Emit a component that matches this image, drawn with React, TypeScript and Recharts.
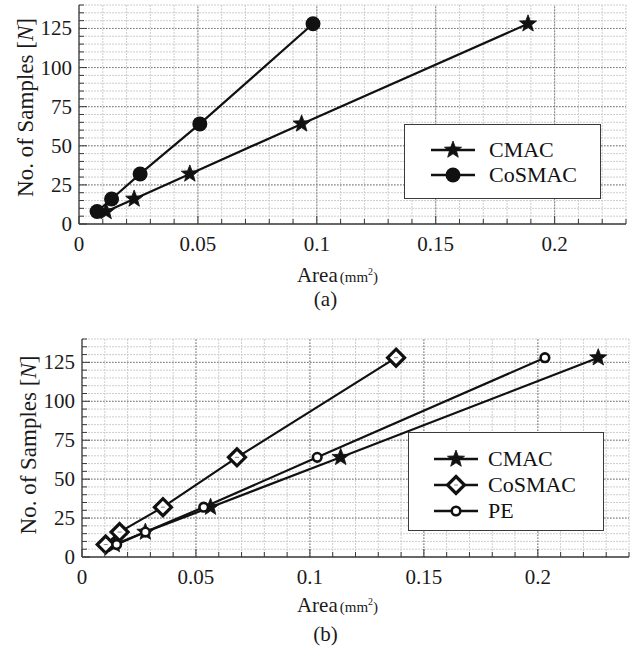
import React from 'react';
import { LineChart, Line, XAxis, YAxis, CartesianGrid, ReferenceLine, Legend, Label } from 'recharts';

// ---------- data ----------
const samples = [8, 16, 32, 64, 128];

// panel (a)
const areaCMAC_a = [0.0114, 0.0232, 0.0466, 0.0936, 0.1888];
const areaCoSMAC_a = [0.0076, 0.0137, 0.0257, 0.0508, 0.0984];

// panel (b)
const areaCMAC_b = [0.0142, 0.0278, 0.0564, 0.1135, 0.2265];
const areaCoSMAC_b = [0.0104, 0.0165, 0.0355, 0.068, 0.1378];
const areaPE_b = [0.0152, 0.0278, 0.0534, 0.1032, 0.2031];

const seriesNamesA = ['CMAC', 'CoSMAC'];
const seriesNamesB = ['CMAC', 'CoSMAC', 'PE'];

// ticks
const xTicksA = [0, 0.01, 0.02, 0.03, 0.04, 0.05, 0.06, 0.07, 0.08, 0.09, 0.1, 0.11, 0.12, 0.13, 0.14, 0.15, 0.16, 0.17, 0.18, 0.19, 0.2, 0.21, 0.22, 0.23];
const xTicksB = [0, 0.01, 0.02, 0.03, 0.04, 0.05, 0.06, 0.07, 0.08, 0.09, 0.1, 0.11, 0.12, 0.13, 0.14, 0.15, 0.16, 0.17, 0.18, 0.19, 0.2, 0.21, 0.22, 0.23, 0.24];
const yTicks = [0, 5, 10, 15, 20, 25, 30, 35, 40, 45, 50, 55, 60, 65, 70, 75, 80, 85, 90, 95, 100, 105, 110, 115, 120, 125, 130, 135, 140];
const xMajorA = [0.05, 0.1, 0.15, 0.2];
const xMajorB = [0.05, 0.1, 0.15, 0.2];
const yMajor = [25, 50, 75, 100, 125];
const yLabelValues = [0, 25, 50, 75, 100, 125];

const toRows = (xs: number[], ys: number[]) => xs.map((x, i) => ({ x, y: ys[i] }));

const FONT = 'Liberation Serif, Tinos, DejaVu Serif, serif';
const INK = '#111';
const AXIS = '#3a3a3a';

const isMajorX = (v: number) => Math.abs(v * 20 - Math.round(v * 20)) < 1e-6;
const fmtX = (v: number) => String(Math.round(v * 100) / 100);

// ---------- markers ----------
function starPath(cx: number, cy: number, R: number, r: number) {
  let d = '';
  for (let i = 0; i < 10; i++) {
    const rad = i % 2 === 0 ? R : r;
    const a = -Math.PI / 2 + (i * Math.PI) / 5;
    d += (i === 0 ? 'M' : 'L') + (cx + rad * Math.cos(a)).toFixed(2) + ',' + (cy + rad * Math.sin(a)).toFixed(2);
  }
  return d + 'Z';
}

function Marker({ kind, cx, cy }: { kind: string; cx: number; cy: number }) {
  if (kind === 'star') return <path d={starPath(cx, cy, 9, 3.8)} fill={INK} stroke={INK} strokeWidth={0.8} />;
  if (kind === 'disc') return <circle cx={cx} cy={cy} r={7.5} fill={INK} />;
  if (kind === 'diamond')
    return (
      <g>
        <polygon
          points={`${cx},${cy - 8.5} ${cx + 8.5},${cy} ${cx},${cy + 8.5} ${cx - 8.5},${cy}`}
          fill="#fff"
          stroke={INK}
          strokeWidth={3.2}
        />
        <line x1={cx - 2} y1={cy} x2={cx + 2} y2={cy} stroke="#888" strokeWidth={1} />
      </g>
    );
  return <circle cx={cx} cy={cy} r={4.3} fill="#fff" stroke={INK} strokeWidth={2.6} />;
}

const makeDot = (kind: string) => (p: any) => {
  const { cx, cy, index } = p;
  if (cx == null || cy == null) return <g key={`${kind}-e-${index}`} />;
  return <Marker key={`${kind}-${index}`} kind={kind} cx={cx} cy={cy} />;
};

// ---------- ticks ----------
const bottomTick = (p: any) => {
  const { x, y, payload } = p;
  const v = payload.value;
  const major = isMajorX(v);
  return (
    <g>
      <line x1={x} y1={y} x2={x} y2={y - (major ? 8 : 5)} stroke={AXIS} strokeWidth={1} />
      {major && (
        <text x={x} y={y + 27} textAnchor="middle" fontFamily={FONT} fontSize={21} fill="#1a1a1a">
          {fmtX(v)}
        </text>
      )}
    </g>
  );
};
const topTick = (p: any) => {
  const { x, y, payload } = p;
  const major = isMajorX(payload.value);
  return <line x1={x} y1={y} x2={x} y2={y + (major ? 8 : 5)} stroke={AXIS} strokeWidth={1} />;
};
const leftTick = (p: any) => {
  const { x, y, payload } = p;
  const v = payload.value;
  const major = v % 25 === 0;
  return (
    <g>
      <line x1={x} y1={y} x2={x + (major ? 8 : 5)} y2={y} stroke={AXIS} strokeWidth={1} />
      {yLabelValues.includes(v) && (
        <text x={x - 7} y={y + 7} textAnchor="end" fontFamily={FONT} fontSize={21} fill="#1a1a1a">
          {v}
        </text>
      )}
    </g>
  );
};
const rightTick = (p: any) => {
  const { x, y, payload } = p;
  const major = payload.value % 25 === 0;
  return <line x1={x} y1={y} x2={x - (major ? 8 : 5)} y2={y} stroke={AXIS} strokeWidth={1} />;
};

// ---------- legend ----------
function LegendBox({ names, kinds, rowStart, rowGap, iconLeft, textLeft }: any) {
  return (
    <div
      style={{
        position: 'relative',
        width: '100%',
        height: '100%',
        boxSizing: 'border-box',
        border: `1.3px solid ${AXIS}`,
        background: '#fff',
      }}
    >
      {names.map((n: string, i: number) => (
        <div key={n} style={{ position: 'absolute', left: 0, top: rowStart + i * rowGap - 13, height: 26, width: '100%' }}>
          <svg width={50} height={26} style={{ position: 'absolute', left: iconLeft - 2, top: 0 }}>
            <line x1={2} y1={13} x2={46} y2={13} stroke={INK} strokeWidth={2.4} />
            <Marker kind={kinds[i]} cx={24} cy={13} />
          </svg>
          <span
            style={{
              position: 'absolute',
              left: textLeft,
              top: 0,
              lineHeight: '26px',
              fontFamily: FONT,
              fontSize: 22,
              color: INK,
              whiteSpace: 'nowrap',
            }}
          >
            {n}
          </span>
        </div>
      ))}
    </div>
  );
}

// ---------- panel ----------
function Panel(props: any) {
  const {
    top, height, margin, yAxisWidth, xAxisHeight, xMax, xTicks, xMajor, series, legend, tag,
    yLabelX, yLabelShift, xLabelShift, xLabelDy, tagDy,
  } = props;

  const renderYLabel = (lp: any) => {
    const vb = lp.viewBox || {};
    const cx = yLabelX;
    const cy = vb.y + vb.height / 2 + yLabelShift;
    return (
      <text
        x={cx}
        y={cy}
        transform={`rotate(-90, ${cx}, ${cy})`}
        textAnchor="middle"
        dominantBaseline="central"
        fontFamily={FONT}
        fontSize={23}
        fill="#1a1a1a"
      >
        No. of Samples [<tspan fontStyle="italic">N</tspan>]
      </text>
    );
  };

  const renderXLabel = (lp: any) => {
    const vb = lp.viewBox || {};
    const cx = vb.x + vb.width / 2 + xLabelShift;
    return (
      <g>
        <text x={cx} y={vb.y + xLabelDy} textAnchor="middle" fontFamily={FONT} fill="#1a1a1a">
          <tspan fontSize={21}>Area</tspan>
          <tspan fontSize={15} dx={2}>(mm</tspan>
          <tspan fontSize={10} dy={-7}>2</tspan>
          <tspan fontSize={15} dy={7}>)</tspan>
        </text>
        <text x={cx - 12} y={vb.y + tagDy} textAnchor="middle" fontFamily={FONT} fontSize={21} fill="#1a1a1a">
          {tag}
        </text>
      </g>
    );
  };

  return (
    <div style={{ position: 'absolute', left: 0, top }}>
      <LineChart width={639} height={height} margin={margin}>
        <CartesianGrid stroke="#c8c8c8" strokeDasharray="2 1" strokeWidth={0.9} />
        {xMajor.map((v: number) => (
          <ReferenceLine key={`vx${v}`} x={v} stroke="#7a7a7a" strokeDasharray="1.5 1.5" strokeWidth={1} zIndex={-50} />
        ))}
        {yMajor.map((v: number) => (
          <ReferenceLine key={`hy${v}`} y={v} stroke="#7a7a7a" strokeDasharray="1.5 1.5" strokeWidth={1} zIndex={-50} />
        ))}
        <XAxis
          dataKey="x"
          type="number"
          domain={[0, xMax]}
          ticks={xTicks}
          interval={0}
          allowDataOverflow
          height={xAxisHeight}
          tickSize={0}
          tickMargin={0}
          tick={bottomTick}
          stroke={AXIS}
          axisLine={{ stroke: AXIS, strokeWidth: 1.3 }}
          tickLine={false}
        >
          <Label content={renderXLabel} />
        </XAxis>
        <XAxis
          xAxisId="top"
          orientation="top"
          dataKey="x"
          type="number"
          domain={[0, xMax]}
          ticks={xTicks}
          interval={0}
          allowDataOverflow
          height={0}
          tickSize={0}
          tickMargin={0}
          tick={topTick}
          axisLine={{ stroke: AXIS, strokeWidth: 1.3 }}
          tickLine={false}
        />
        <YAxis
          type="number"
          domain={[0, 140]}
          ticks={yTicks}
          interval={0}
          allowDataOverflow
          width={yAxisWidth}
          tickSize={0}
          tickMargin={0}
          tick={leftTick}
          axisLine={{ stroke: AXIS, strokeWidth: 1.3 }}
          tickLine={false}
        >
          <Label content={renderYLabel} />
        </YAxis>
        <YAxis
          yAxisId="right"
          orientation="right"
          type="number"
          domain={[0, 140]}
          ticks={yTicks}
          interval={0}
          allowDataOverflow
          width={0}
          tickSize={0}
          tickMargin={0}
          tick={rightTick}
          axisLine={{ stroke: AXIS, strokeWidth: 1.3 }}
          tickLine={false}
        />
        {series.map((s: any) => (
          <Line
            key={s.name}
            name={s.name}
            data={s.data}
            dataKey="y"
            type="linear"
            stroke={INK}
            strokeWidth={2.2}
            dot={makeDot(s.kind)}
            activeDot={false}
            isAnimationActive={false}
          />
        ))}
        <Legend
          layout="vertical"
          align="center"
          verticalAlign="middle"
          wrapperStyle={{ position: 'absolute', left: legend.left, top: legend.top, width: legend.width, height: legend.height }}
          content={() => (
            <LegendBox
              names={legend.names}
              kinds={legend.kinds}
              rowStart={legend.rowStart}
              rowGap={legend.rowGap}
              iconLeft={legend.iconLeft}
              textLeft={legend.textLeft}
            />
          )}
        />
      </LineChart>
    </div>
  );
}

export default function App() {
  const seriesA = [
    { name: seriesNamesA[0], kind: 'star', data: toRows(areaCMAC_a, samples) },
    { name: seriesNamesA[1], kind: 'disc', data: toRows(areaCoSMAC_a, samples) },
  ];
  const seriesB = [
    { name: seriesNamesB[0], kind: 'star', data: toRows(areaCMAC_b, samples) },
    { name: seriesNamesB[1], kind: 'diamond', data: toRows(areaCoSMAC_b, samples) },
    { name: seriesNamesB[2], kind: 'ring', data: toRows(areaPE_b, samples) },
  ];
  return (
    <div style={{ position: 'absolute', left: 0, top: 0, width: 639, height: 654, background: '#fff' }}>
      <Panel
        top={0}
        height={322}
        margin={{ top: 5, right: 13, bottom: 0, left: 0 }}
        yAxisWidth={79}
        xAxisHeight={98}
        xMax={0.23}
        xTicks={xTicksA}
        xMajor={xMajorA}
        series={seriesA}
        tag="(a)"
        yLabelX={25}
        yLabelShift={-7}
        xLabelShift={-15}
        xLabelDy={58}
        tagDy={82}
        legend={{
          left: 404, top: 124, width: 197, height: 75,
          names: seriesNamesA, kinds: ['star', 'disc'],
          rowStart: 25, rowGap: 25, iconLeft: 26, textLeft: 84,
        }}
      />
      <Panel
        top={330}
        height={324}
        margin={{ top: 9, right: 10, bottom: 0, left: 0 }}
        yAxisWidth={82}
        xAxisHeight={97}
        xMax={0.24}
        xTicks={xTicksB}
        xMajor={xMajorB}
        series={seriesB}
        tag="(b)"
        yLabelX={28}
        yLabelShift={-3}
        xLabelShift={-18}
        xLabelDy={55}
        tagDy={84}
        legend={{
          left: 408, top: 102, width: 196, height: 99,
          names: seriesNamesB, kinds: ['star', 'diamond', 'ring'],
          rowStart: 26, rowGap: 26, iconLeft: 25, textLeft: 79,
        }}
      />
    </div>
  );
}
